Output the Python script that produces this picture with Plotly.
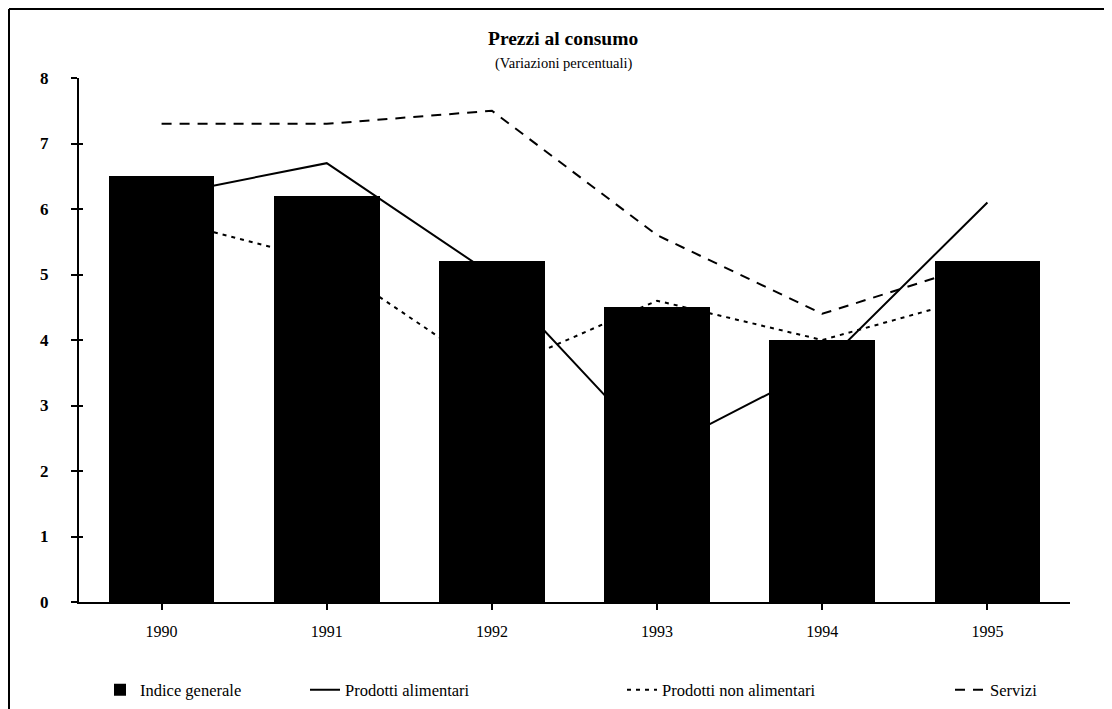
import plotly.graph_objects as go

years = ["1990", "1991", "1992", "1993", "1994", "1995"]
indice_generale = [6.5, 6.2, 5.2, 4.5, 4.0, 5.2]
prodotti_alimentari = [6.2, 6.7, 5.0, 2.3, 3.6, 6.1]
prodotti_non_alimentari = [5.85, 5.2, 3.5, 4.6, 4.0, 4.7]
servizi = [7.3, 7.3, 7.5, 5.6, 4.4, 5.2]
y_ticks = [0, 1, 2, 3, 4, 5, 6, 7, 8]

FONT = "Liberation Serif"

fig = go.Figure()

# Bars on an overlaying subplot so that they are drawn above the lines
fig.add_trace(go.Bar(
    x=years, y=indice_generale, name="Indice generale",
    marker=dict(color="black", line=dict(width=0)),
    width=0.64, xaxis="x2", yaxis="y2", legend="legend",
))
fig.add_trace(go.Scatter(
    x=years, y=prodotti_alimentari, name="Prodotti alimentari",
    mode="lines", line=dict(color="black", width=2), legend="legend2",
))
fig.add_trace(go.Scatter(
    x=years, y=prodotti_non_alimentari, name="Prodotti non alimentari",
    mode="lines", line=dict(color="black", width=2, dash="4px,5px"), legend="legend3",
))
fig.add_trace(go.Scatter(
    x=years, y=servizi, name="Servizi",
    mode="lines", line=dict(color="black", width=2, dash="10px,8px"), legend="legend4",
))

# The page body adds an 8px offset; sizes are chosen so the figure fits the window
OFF = 8
W, H = 1104, 701
L, R, T, B = 79 - OFF, 42, 78 - OFF, 107
pw, ph = W - L - R, H - T - B


def px(x):
    # page pixel x -> paper fraction
    return (x - OFF - L) / pw


def py(y):
    # page pixel y -> paper fraction
    return (H - B - (y - OFF)) / ph


def cx(x):
    return (x - OFF) / W


def cy(y):
    return 1 - (y - OFF) / H


leg_common = dict(orientation="h", yanchor="middle", xanchor="left",
                  xref="container", yref="container", y=cy(690),
                  font=dict(family=FONT, size=16.5, color="black"),
                  bgcolor="rgba(0,0,0,0)", borderwidth=0)

fig.update_layout(
    width=W, height=H,
    margin=dict(l=L, r=R, t=T, b=B),
    paper_bgcolor="white", plot_bgcolor="white",
    font=dict(family=FONT, color="black"),
    showlegend=True,
    bargap=0,
    xaxis=dict(type="category", categoryorder="array", categoryarray=years,
               range=[-0.5, 5.5], showgrid=False, zeroline=False,
               showline=True, linecolor="black", linewidth=2,
               ticks="outside", ticklen=6, tickwidth=2, tickcolor="black",
               tickfont=dict(family=FONT, size=16, color="black"),
               ticklabelstandoff=8),
    xaxis2=dict(type="category", categoryorder="array", categoryarray=years,
                range=[-0.5, 5.5], overlaying="x", showgrid=False,
                zeroline=False, showline=False, showticklabels=False,
                ticks=""),
    yaxis=dict(range=[0, 8], tickvals=y_ticks, showgrid=False, zeroline=False,
               showline=True, linecolor="black", linewidth=2,
               ticks="outside", ticklen=6, tickwidth=2, tickcolor="black",
               tickfont=dict(family=FONT, size=17, color="black", weight="bold"),
               ticklabelstandoff=19),
    yaxis2=dict(range=[0, 8], tickvals=y_ticks, overlaying="y", side="left",
                showgrid=False, zeroline=False, showline=False,
                showticklabels=False, ticks="inside", ticklen=4, tickwidth=2,
                tickcolor="black"),
    legend=dict(x=cx(100), **leg_common),
    legend2=dict(x=cx(305), **leg_common),
    legend3=dict(x=cx(622), **leg_common),
    legend4=dict(x=cx(950), **leg_common),
    annotations=[
        dict(text="<b>Prezzi al consumo</b>", xref="paper", yref="paper",
             x=px(563), y=py(38), xanchor="center", yanchor="middle",
             showarrow=False, font=dict(family=FONT, size=19.5, color="black")),
        dict(text="(Variazioni percentuali)", xref="paper", yref="paper",
             x=px(563), y=py(64), xanchor="center", yanchor="middle",
             showarrow=False, font=dict(family=FONT, size=14.5, color="black")),
    ],
    shapes=[
        dict(type="line", xref="paper", yref="paper",
             x0=px(9), x1=px(1112), y0=py(9), y1=py(9),
             line=dict(color="black", width=2)),
        dict(type="line", xref="paper", yref="paper",
             x0=px(9), x1=px(9), y0=py(9), y1=py(709),
             line=dict(color="black", width=2)),
    ],
)

fig.write_html("out.html")
